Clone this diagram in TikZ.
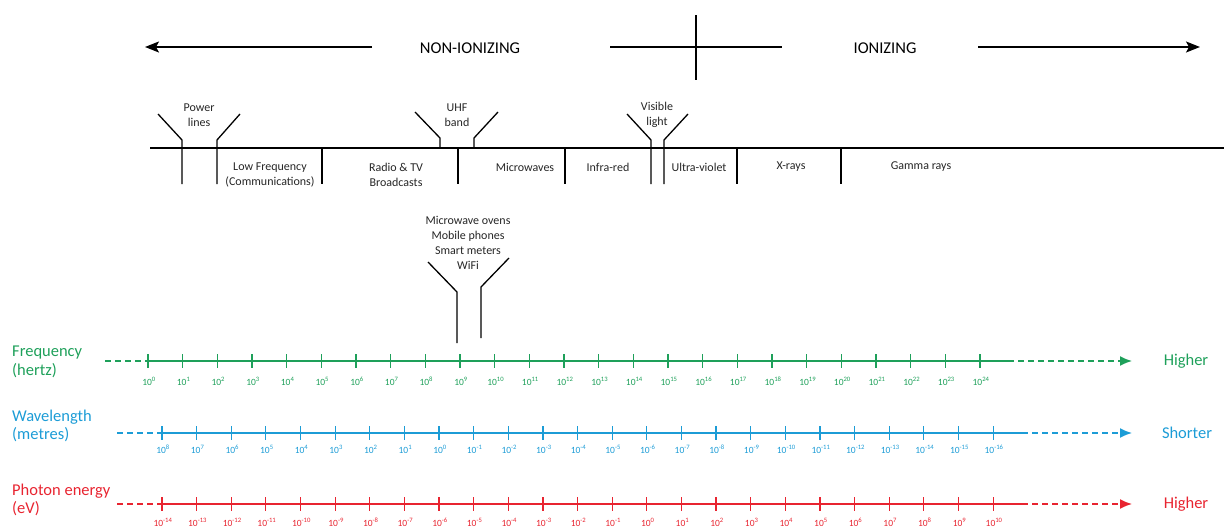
\documentclass[tikz,border=0pt]{standalone}
\usepackage{fontspec}
\setmainfont{Carlito}
\usepackage{tikz}
\usepackage{xcolor}
\usetikzlibrary{arrows.meta,positioning}

\definecolor{freqgreen}{RGB}{30,160,90}
\definecolor{waveblue}{RGB}{28,156,214}
\definecolor{energyred}{RGB}{232,36,48}

\begin{document}
\begin{tikzpicture}[
    x=1pt, y=-1pt,
    bigtext/.style={font=\fontsize{16.5}{18}\selectfont, align=center},
    bandtext/.style={font=\fontsize{12}{15}\selectfont, align=center, text=black!85, inner sep=1pt},
    axistext/.style={font=\fontsize{16.5}{18.5}\selectfont, align=left, anchor=west, inner sep=0pt},
    ticktext/.style={font=\fontsize{9.5}{10}\selectfont, inner sep=0pt},
    bline/.style={line width=1.3pt},
    bigarrow/.style={line width=1.3pt, -{Stealth[length=14pt,width=11pt,inset=3pt]}},
    axisline/.style={line width=1.6pt},
    axisdash/.style={line width=1.6pt, dash pattern=on 6pt off 4pt, -{Latex[length=12pt,width=10pt]}}
  ]
    \useasboundingbox (0,0) rectangle (1224,530);

    % Ionizing / non-ionizing
    \node[bigtext] (nonion) at (470,48) {NON-IONIZING};
    \node[bigtext] (ion) at (885,48) {IONIZING};
    \coordinate (divtop) at (696,15);
    \coordinate (divbot) at (696,80);
    \coordinate (divl) at (610,47);
    \coordinate (divr) at (782,47);
    \draw[bigarrow] (372,47) -- (145,47);
    \draw[bigarrow] (978,47) -- (1200,47);
    \draw[bline] (divl) -- (divr);
    \draw[bline] (divtop) -- (divbot);

    % Spectrum bands
    \draw[bline] (150,148) -- (1224,148);
    \foreach \xx in {322,458,565,737,841}
      \draw[bline] (\xx,148) -- (\xx,184);
    \draw[bline] (158,114) -- (182,140) -- (182,184);
    \draw[bline] (240,114) -- (217,140) -- (217,184);
    \draw[bline] (415,112) -- (440,138) -- (440,148);
    \draw[bline] (498,112) -- (474,138) -- (474,148);
    \draw[bline] (627,114) -- (651,140) -- (651,184);
    \draw[bline] (688,114) -- (664,140) -- (664,184);

    \node[bandtext] (power) at (199,115) {Power\\lines};
    \node[bandtext] (uhf) at (457,115) {UHF\\band};
    \node[bandtext] (visible) at (657,115) {Visible\\light};
    \node[bandtext] (lowfreq) at (270,175) {Low Frequency\\(Communications)};
    \node[bandtext] (radio) at (396,175) {Radio \& TV\\Broadcasts};
    \node[bandtext] (micro) at (525,167) {Microwaves};
    \node[bandtext] (infra) at (608,167) {Infra-red};
    \node[bandtext] (ultra) at (699,167) {Ultra-violet};
    \node[bandtext] (xrays) at (791,167) {X-rays};
    \node[bandtext] (gamma) at (921,167) {Gamma rays};

    % Everyday sources
    \node[bandtext] (sources) at (468,243) {Microwave ovens\\Mobile phones\\Smart meters\\WiFi};
    \draw[bline] (428,262) -- (457,292) -- (457,343);
    \draw[bline] (509,258) -- (481,287) -- (481,338);

    % Frequency axis
    \node[axistext, text=freqgreen] (freq) at (12,362) {Frequency\\(hertz)};
    \node[axistext, text=freqgreen, anchor=center] (higher1) at (1186,361) {Higher};
    \draw[axisline, freqgreen, dash pattern=on 6pt off 4pt] (105,361) -- (148,361);
    \draw[axisline, freqgreen] (148,361) -- (1008,361);
    \draw[axisdash, freqgreen] (1008,361) -- (1132,361);
    \foreach \i in {0,...,24} {
      \pgfmathsetmacro\xx{148+34.67*\i}
      \draw[line width=1.2pt, freqgreen] (\xx,354) -- (\xx,368);
      \node[ticktext, text=freqgreen] (f\i) at (\xx+1,381) {10\textsuperscript{\i}};
    }

    % Wavelength axis
    \node[axistext, text=waveblue] (wave) at (12,426) {Wavelength\\(metres)};
    \node[axistext, text=waveblue, anchor=center] (shorter) at (1187,433) {Shorter};
    \draw[axisline, waveblue, dash pattern=on 6pt off 4pt] (117,433) -- (162,433);
    \draw[axisline, waveblue] (162,433) -- (1022,433);
    \draw[axisdash, waveblue] (1022,433) -- (1132,433);
    \foreach \i in {0,...,24} {
      \pgfmathsetmacro\xx{162+34.63*\i}
      \pgfmathtruncatemacro\ee{8-\i}
      \draw[line width=1.2pt, waveblue] (\xx,426) -- (\xx,440);
      \node[ticktext, text=waveblue] (w\i) at (\xx+1,449) {10\textsuperscript{\ee}};
    }

    % Photon energy axis
    \node[axistext, text=energyred] (energy) at (12,500) {Photon energy\\(eV)};
    \node[axistext, text=energyred, anchor=center] (higher2) at (1186,504) {Higher};
    \draw[axisline, energyred, dash pattern=on 6pt off 4pt] (117,504) -- (162,504);
    \draw[axisline, energyred] (162,504) -- (1022,504);
    \draw[axisdash, energyred] (1022,504) -- (1132,504);
    \foreach \i in {0,...,24} {
      \pgfmathsetmacro\xx{162+34.63*\i}
      \pgfmathtruncatemacro\ee{\i-14}
      \draw[line width=1.2pt, energyred] (\xx,497) -- (\xx,511);
      \node[ticktext, text=energyred] (e\i) at (\xx+1,522) {10\textsuperscript{\ee}};
    }
  \end{tikzpicture}
\end{document}
